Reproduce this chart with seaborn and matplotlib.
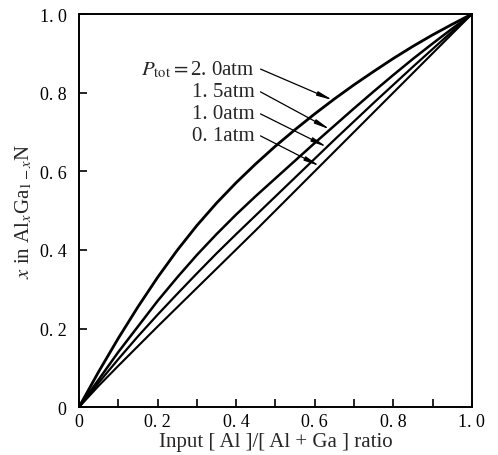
import numpy as np
import pandas as pd
import matplotlib
matplotlib.use("Agg")
import matplotlib.pyplot as plt
import seaborn as sns

# input [Al]/[Al+Ga] ratio
ratio = [0.0, 0.05, 0.1, 0.15, 0.2, 0.25, 0.3, 0.35, 0.4, 0.45, 0.5,
         0.55, 0.6, 0.65, 0.7, 0.75, 0.8, 0.85, 0.9, 0.95, 1.0]
# x in AlxGa1-xN for each total pressure
x_2p0 = [0.0, 0.09, 0.175, 0.255, 0.33, 0.399, 0.462, 0.519, 0.571, 0.619, 0.664,
         0.706, 0.746, 0.784, 0.82, 0.854, 0.887, 0.918, 0.947, 0.974, 1.0]
x_1p5 = [0.0, 0.07, 0.14, 0.205, 0.27, 0.33, 0.387, 0.44, 0.49, 0.537, 0.582,
         0.627, 0.672, 0.716, 0.76, 0.803, 0.845, 0.886, 0.925, 0.963, 1.0]
x_1p0 = [0.0, 0.062, 0.122, 0.18, 0.235, 0.288, 0.34, 0.391, 0.44, 0.488, 0.536,
         0.584, 0.632, 0.68, 0.727, 0.774, 0.82, 0.866, 0.911, 0.956, 1.0]
x_0p1 = [0.0, 0.054, 0.105, 0.155, 0.205, 0.254, 0.303, 0.352, 0.401, 0.45, 0.5,
         0.55, 0.6, 0.65, 0.7, 0.75, 0.8, 0.85, 0.9, 0.95, 1.0]
labels = [r"$P_{\rm tot}=$2. 0atm", "1. 5atm", "1. 0atm", "0. 1atm"]
arrow_at = [0.646, 0.639, 0.631, 0.613]

series = [x_2p0, x_1p5, x_1p0, x_0p1]

sns.set_style("ticks")
plt.rcParams['font.family'] = ['Liberation Serif', 'DejaVu Serif']
plt.rcParams['mathtext.fontset'] = 'stix'

fig = plt.figure(figsize=(4.98, 4.56), dpi=100)
ax = fig.add_axes([0.1586, 0.105, 0.789, 0.862])

for ys, lw in zip(series, [2.0, 1.8, 1.6, 1.5]):
    df = pd.DataFrame({"ratio": ratio, "x": ys})
    sns.lineplot(data=df, x="ratio", y="x", color="black", linewidth=lw, ax=ax)

# pressure labels with pointers
text_y = [0.860, 0.802, 0.746, 0.690]
for lab, ys, xa, ty in zip(labels, series, arrow_at, text_y):
    ya = np.interp(xa, ratio, ys)
    ax.annotate("", xy=(xa, ya), xytext=(0.462, ty),
                arrowprops=dict(arrowstyle="-|>,head_length=0.9,head_width=0.13",
                                color="black", lw=0.9, shrinkA=0, shrinkB=0))
    ax.text(0.448, ty, lab, ha="right", va="center", fontsize=15)

ax.set_xlim(0, 1)
ax.set_ylim(0, 1)
ax.set_xticks([0, 0.2, 0.4, 0.6, 0.8, 1.0])
ax.set_xticklabels(["0", "0. 2", "0. 4", "0. 6", "0. 8", "1. 0"])
ax.set_xticks(np.arange(0.1, 1.0, 0.2), minor=True)
ax.set_yticks([0, 0.2, 0.4, 0.6, 0.8, 1.0])
ax.set_yticklabels(["0", "0. 2", "0. 4", "0. 6", "0. 8", "1. 0"])
ax.tick_params(which="both", direction="in", length=6, width=1.2,
               labelsize=13, colors="black")
ax.tick_params(axis="y", pad=9)
ax.tick_params(axis="x", pad=4)
for s in ax.spines.values():
    s.set_linewidth(1.4)
    s.set_color("black")

ax.set_xlabel("Input [ Al ]/[ Al + Ga ] ratio", fontsize=15, labelpad=2)
ax.set_ylabel(r"$x$ in Al$_x$Ga$_{1-x}$N", fontsize=15, labelpad=4)

fig.savefig("out.png", dpi=100)
